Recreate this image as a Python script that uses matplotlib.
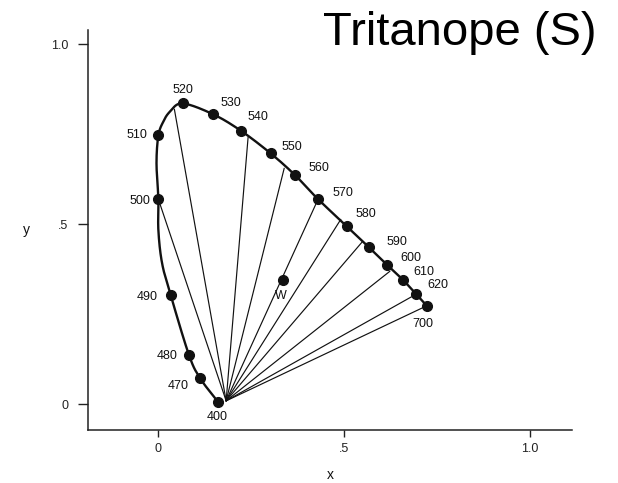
import numpy as np
import matplotlib
matplotlib.use("Agg")
import matplotlib.pyplot as plt

plt.rcParams['font.family'] = ['Liberation Sans', 'DejaVu Sans']

# Spectral locus points, ordered 400 -> 700 nm
locus_x = [0.163, 0.114, 0.084, 0.035, 0.012, 0.002, 0.002, -0.003, 0.002, 0.015, 0.033,
           0.067, 0.149, 0.224, 0.304, 0.369, 0.431, 0.508, 0.568, 0.617, 0.658, 0.693, 0.723]
locus_y = [0.005, 0.072, 0.137, 0.303, 0.391, 0.483, 0.569, 0.669, 0.746, 0.784, 0.812,
           0.835, 0.805, 0.759, 0.696, 0.636, 0.569, 0.494, 0.435, 0.386, 0.346, 0.307, 0.273]

# Labelled wavelength dots
wl_labels = ['400', '470', '480', '490', '500', '510', '520', '530', '540', '550',
             '560', '570', '580', '590', '600', '610', '620', '700']
wl_x = [0.163, 0.114, 0.084, 0.035, 0.002, 0.002, 0.067, 0.149, 0.224, 0.304,
        0.369, 0.431, 0.508, 0.568, 0.617, 0.658, 0.693, 0.723]
wl_y = [0.005, 0.072, 0.137, 0.303, 0.569, 0.746, 0.835, 0.805, 0.759, 0.696,
        0.636, 0.569, 0.494, 0.435, 0.386, 0.346, 0.307, 0.273]

# White point
white_x, white_y = 0.336, 0.344

# Tritanope confusion-line convergence point and line end points on the locus
conf_x, conf_y = 0.184, 0.009
line_end_x = [0.002, 0.045, 0.243, 0.340, 0.431, 0.492, 0.550, 0.624, 0.682, 0.723]
line_end_y = [0.569, 0.819, 0.741, 0.655, 0.569, 0.513, 0.451, 0.369, 0.298, 0.273]

x_ticks = [0, 0.5, 1.0]
x_ticklabels = ['0', '.5', '1.0']
y_ticks = [0, 0.5, 1.0]
y_ticklabels = ['0', '.5', '1.0']

# label offsets in points (style/position, not data)
label_offsets = {
    '400': (-0.7, -10.8), '470': (-15.6, -5.5), '480': (-16, -0.7), '490': (-16.8, -1.7),
    '500': (-13.2, -1.2), '510': (-15.6, 0.5), '520': (0, 9.6), '530': (12.5, 8.4),
    '540': (12.5, 9.6), '550': (15.5, 5), '560': (17.5, 4.8), '570': (18, 4.8),
    '580': (13.9, 8.6), '590': (20.2, 4), '600': (16.7, 5), '610': (15.3, 5.5),
    '620': (16.3, 6), '700': (-2.9, -13.2),
}


def catmull_rom(xs, ys, n=20):
    P = np.column_stack([xs, ys])
    P = np.vstack([P[0] * 2 - P[1], P, P[-1] * 2 - P[-2]])
    out = []
    for i in range(1, len(P) - 2):
        p0, p1, p2, p3 = P[i - 1], P[i], P[i + 1], P[i + 2]
        t = np.linspace(0, 1, n, endpoint=False)[:, None]
        seg = 0.5 * ((2 * p1) + (-p0 + p2) * t + (2 * p0 - 5 * p1 + 4 * p2 - p3) * t ** 2
                     + (-p0 + 3 * p1 - 3 * p2 + p3) * t ** 3)
        out.append(seg)
    out.append(P[-2][None, :])
    out = np.vstack(out)
    return out[:, 0], out[:, 1]


fig = plt.figure(figsize=(6.18, 4.83), dpi=100)
ax = fig.add_axes([88 / 618, 1 - 430 / 483, (572 - 88) / 618, (430 - 30) / 483])
ax.set_xlim(-0.187, 1.113)
ax.set_ylim(-0.072, 1.039)

ink = '#111111'

# confusion lines
for ex, ey in zip(line_end_x, line_end_y):
    ax.plot([conf_x, ex], [conf_y, ey], color=ink, lw=0.85, solid_capstyle='round')

# spectral locus (smooth)
cx, cy = catmull_rom(locus_x, locus_y)
ax.plot(cx, cy, color=ink, lw=1.7)

ax.plot(wl_x, wl_y, 'o', color=ink, ms=7)
ax.plot([white_x], [white_y], 'o', color=ink, ms=7)

for lab, x, y in zip(wl_labels, wl_x, wl_y):
    dx, dy = label_offsets[lab]
    ax.annotate(lab, (x, y), xytext=(dx, dy), textcoords='offset points',
                ha='center', va='center', fontsize=9, color=ink)
ax.annotate('W', (white_x, white_y), xytext=(-1.4, -11.5), textcoords='offset points',
            ha='center', va='center', fontsize=9, color=ink)

for s in ['top', 'right']:
    ax.spines[s].set_visible(False)
for s in ['left', 'bottom']:
    ax.spines[s].set_color('#222222')
    ax.spines[s].set_linewidth(1.1)

ax.set_xticks(x_ticks)
ax.set_xticklabels(x_ticklabels)
ax.set_yticks(y_ticks)
ax.set_yticklabels(y_ticklabels)
ax.tick_params(axis='x', direction='out', length=5, width=1.0, pad=4, labelsize=9,
               colors='#222222')
ax.tick_params(axis='y', direction='out', length=7, width=1.0, pad=7, labelsize=9,
               colors='#222222')

fig.text(26 / 618, 1 - 230 / 483, 'y', ha='center', va='center', fontsize=10, color=ink)
fig.text(330 / 618, 1 - 475 / 483, 'x', ha='center', va='center', fontsize=10, color=ink)

fig.text(323 / 618, 1 - 45 / 483, 'Tritanope (S)', ha='left', va='baseline',
         fontsize=34, color='black')

fig.savefig('out.png', dpi=100, facecolor='white')
